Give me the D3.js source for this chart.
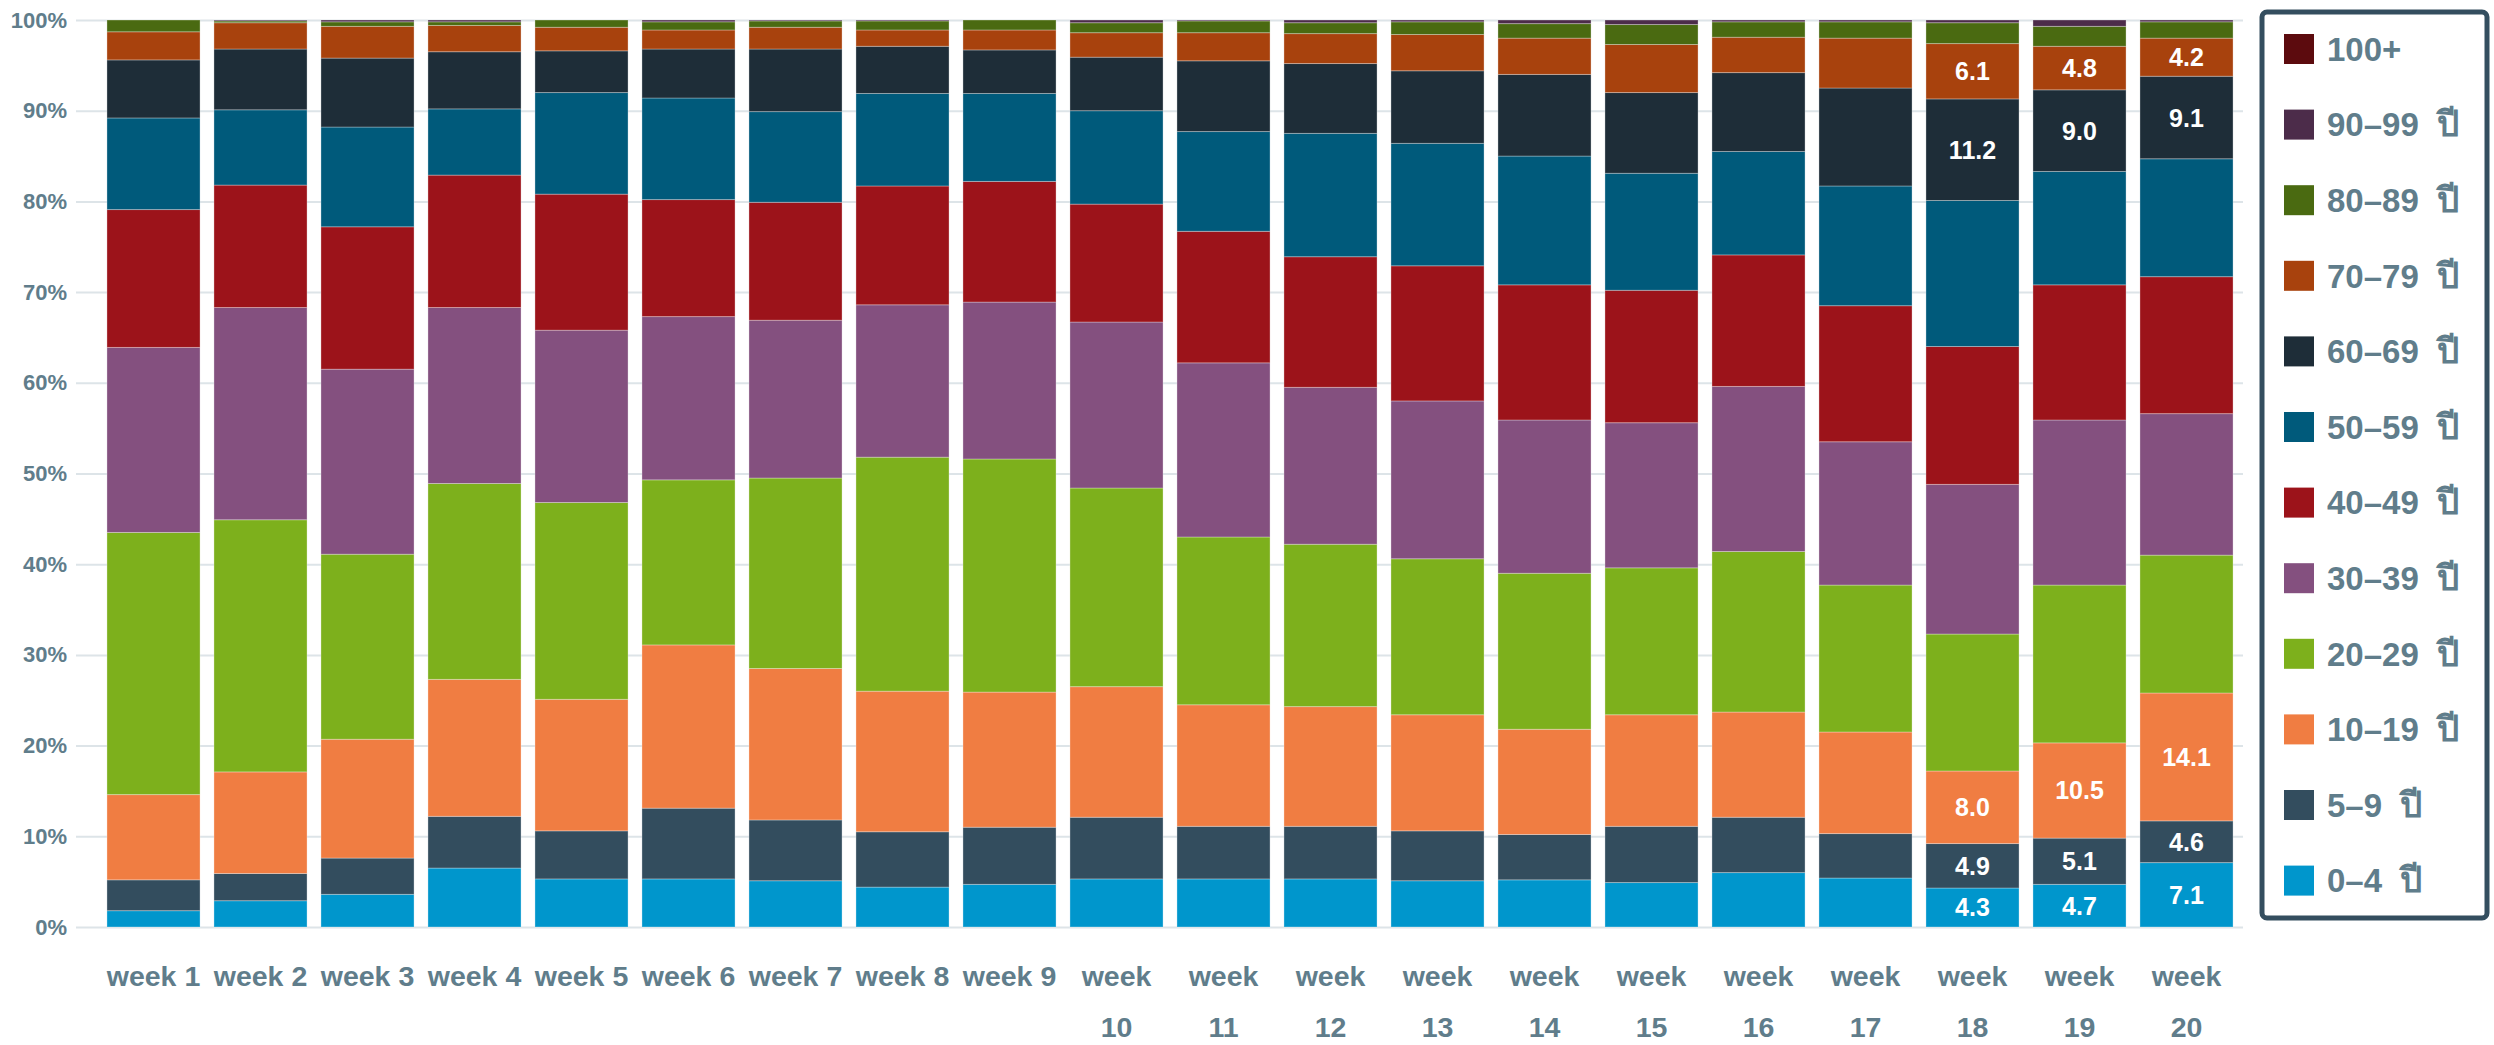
<!DOCTYPE html>
<html>
    <head>
        <meta charset="utf-8">
        <title>Age groups by week</title>
        <script src="https://cdn.jsdelivr.net/npm/d3@7"></script>
    </head>

    <style>
        body {
            margin: 0;
            background: #ffffff;
        }

        .chart-text {
            font-family: "Liberation Sans", Arial, "Noto Sans", sans-serif;
            font-weight: bold;
            fill: #607d8b;
        }
    </style>

    <body>
        <div class="viz-container"></div>
    </body>
    <script>

        //Categories on the x axis
        var weeks = ["week 1", "week 2", "week 3", "week 4", "week 5", "week 6", "week 7",
                     "week 8", "week 9", "week 10", "week 11", "week 12", "week 13", "week 14",
                     "week 15", "week 16", "week 17", "week 18", "week 19", "week 20"];

        //Age groups, bottom of the stack first
        var ageGroups = ["0–4 ปี", "5–9 ปี", "10–19 ปี", "20–29 ปี", "30–39 ปี", "40–49 ปี",
                         "50–59 ปี", "60–69 ปี", "70–79 ปี", "80–89 ปี", "90–99 ปี", "100+"];

        //Share of cases (%) per age group, one value per week
        var age0to4   = [1.8, 2.9, 3.6, 6.5, 5.3, 5.3, 5.1, 4.4, 4.7, 5.3, 5.3, 5.3, 5.1, 5.2, 4.9, 6.0, 5.4, 4.3, 4.7, 7.1];
        var age5to9   = [3.4, 3.0, 4.0, 5.7, 5.3, 7.8, 6.7, 6.1, 6.3, 6.8, 5.8, 5.8, 5.5, 5.0, 6.2, 6.1, 4.9, 4.9, 5.1, 4.6];
        var age10to19 = [9.4, 11.2, 13.1, 15.1, 14.5, 18.0, 16.7, 15.5, 14.9, 14.4, 13.4, 13.2, 12.8, 11.6, 12.3, 11.6, 11.2, 8.0, 10.5, 14.1];
        var age20to29 = [28.9, 27.8, 20.4, 21.6, 21.7, 18.2, 21.0, 25.8, 25.7, 21.9, 18.5, 17.9, 17.2, 17.2, 16.2, 17.7, 16.2, 15.1, 17.4, 15.2];
        var age30to39 = [20.4, 23.4, 20.4, 19.4, 19.0, 18.0, 17.4, 16.8, 17.3, 18.3, 19.2, 17.3, 17.4, 16.9, 16.0, 18.2, 15.8, 16.5, 18.2, 15.6];
        var age40to49 = [15.2, 13.5, 15.7, 14.6, 15.0, 12.9, 13.0, 13.1, 13.3, 13.0, 14.5, 14.4, 14.9, 14.9, 14.6, 14.5, 15.0, 15.2, 14.9, 15.1];
        var age50to59 = [10.1, 8.3, 11.0, 7.3, 11.2, 11.2, 10.0, 10.2, 9.7, 10.3, 11.0, 13.6, 13.5, 14.2, 12.9, 11.4, 13.2, 16.1, 12.5, 13.0];
        var age60to69 = [6.4, 6.7, 7.6, 6.3, 4.6, 5.4, 6.9, 5.2, 4.8, 5.9, 7.8, 7.7, 8.0, 9.0, 8.9, 8.7, 10.8, 11.2, 9.0, 9.1];
        var age70to79 = [3.1, 2.9, 3.5, 2.9, 2.6, 2.1, 2.4, 1.8, 2.2, 2.7, 3.1, 3.3, 4.0, 4.0, 5.3, 3.9, 5.5, 6.1, 4.8, 4.2];
        var age80to89 = [1.3, 0.2, 0.5, 0.4, 0.8, 0.9, 0.7, 1.0, 1.1, 1.1, 1.3, 1.2, 1.4, 1.6, 2.2, 1.7, 1.8, 2.3, 2.2, 1.8];
        var age90to99 = [0, 0.1, 0.2, 0.2, 0, 0.2, 0.1, 0.1, 0, 0.3, 0.1, 0.3, 0.2, 0.4, 0.5, 0.2, 0.2, 0.3, 0.7, 0.2];
        var age100up  = [0, 0, 0, 0, 0, 0, 0, 0, 0, 0, 0, 0, 0, 0, 0, 0, 0, 0, 0, 0];

        var seriesValues = [age0to4, age5to9, age10to19, age20to29, age30to39, age40to49,
                            age50to59, age60to69, age70to79, age80to89, age90to99, age100up];

        //Tick labels of the y axis
        var yTicks = [0, 0.1, 0.2, 0.3, 0.4, 0.5, 0.6, 0.7, 0.8, 0.9, 1];

        //Segments that carry a value label
        var labelledGroups = ["0–4 ปี", "5–9 ปี", "10–19 ปี", "60–69 ปี", "70–79 ปี"];
        var labelledWeeks = ["week 18", "week 19", "week 20"];

        var colors = ["#0096cc", "#334d5e", "#f07d42", "#7db01c", "#84507f", "#9c131a",
                      "#005a7b", "#1e2d38", "#a8420d", "#4a6a11", "#4c2c4a", "#5c0b0e"];

        //Basic sizing
        var width = 2494;
        var height = 1045;
        var plotLeft = 100, plotRight = 2240;
        var plotTop = 20, plotBottom = 927;
        var gridLeft = 76, gridRight = 2243;
        var lineHeight = 51;

        var svg = d3.select(".viz-container")
                    .append("svg")
                    .attr("width", width)
                    .attr("height", height);

        //Scales
        var x = d3.scaleBand()
                  .domain(weeks)
                  .range([plotLeft, plotRight])
                  .paddingInner(0.13)
                  .paddingOuter(0.065);

        var y = d3.scaleLinear()
                  .domain([0, 1])
                  .range([plotBottom, plotTop]);

        var color = d3.scaleOrdinal()
                      .domain(ageGroups)
                      .range(colors);

        //Build the rows for the stack
        var rows = weeks.map(function(w, i) {
            var row = { week: w };
            ageGroups.forEach(function(g, j) {
                row[g] = seriesValues[j][i];
            });
            return row;
        });

        var stacked = d3.stack()
                        .keys(ageGroups)
                        .offset(d3.stackOffsetExpand)(rows);

        //Grid lines and y labels
        var yAxis = svg.append("g")
            .attr("transform", "translate(" + gridLeft + ",0)")
            .call(d3.axisLeft(y)
                    .tickValues(yTicks)
                    .tickFormat(d3.format(".0%"))
                    .tickSize(-(gridRight - gridLeft))
                    .tickPadding(9));

        yAxis.select(".domain").remove();
        yAxis.selectAll(".tick line")
            .attr("stroke", "#dde4e8")
            .attr("stroke-width", 2);
        yAxis.selectAll(".tick text")
            .attr("class", "chart-text")
            .style("font-size", "22px");

        //Stacked bars
        var layer = svg.append("g")
            .selectAll("g")
            .data(stacked)
            .enter()
            .append("g")
            .attr("fill", function(d) { return color(d.key); });

        layer.selectAll("rect")
            .data(function(d) { return d; })
            .enter()
            .filter(function(d) { return d[1] - d[0] > 0; })
            .append("rect")
            .attr("x", function(d) { return x(d.data.week); })
            .attr("y", function(d) { return y(d[1]); })
            .attr("width", x.bandwidth())
            .attr("height", function(d) { return y(d[0]) - y(d[1]); })
            .attr("stroke", "rgba(255,255,255,0.3)")
            .attr("stroke-width", 1);

        //Value labels inside some segments
        var fmt = d3.format(".1f");
        stacked.forEach(function(s) {
            if (labelledGroups.indexOf(s.key) < 0) return;
            svg.append("g")
                .selectAll("text")
                .data(s.filter(function(d) { return labelledWeeks.indexOf(d.data.week) >= 0; }))
                .enter()
                .append("text")
                .attr("class", "chart-text")
                .style("fill", "#ffffff")
                .style("font-size", "25px")
                .attr("text-anchor", "middle")
                .attr("dy", "0.36em")
                .attr("x", function(d) { return x(d.data.week) + x.bandwidth() / 2; })
                .attr("y", function(d) { return (y(d[0]) + y(d[1])) / 2; })
                .text(function(d) { return fmt(d.data[s.key]); });
        });

        //X axis labels
        var xAxis = svg.append("g")
            .attr("transform", "translate(0," + plotBottom + ")")
            .call(d3.axisBottom(x).tickSize(0));

        xAxis.select(".domain").remove();
        xAxis.selectAll(".tick text")
            .attr("class", "chart-text")
            .style("font-size", "28.5px")
            .attr("y", 59)
            .attr("dy", 0)
            .call(wrap, x.step());

        //Break a label into lines when it is wider than its band
        function wrap(text, maxWidth) {
            text.each(function() {
                var t = d3.select(this);
                if (this.getComputedTextLength() <= maxWidth) return;
                var words = t.text().split(" ");
                t.text(null);
                words.forEach(function(w, i) {
                    t.append("tspan")
                        .attr("x", 0)
                        .attr("dy", i === 0 ? 0 : lineHeight)
                        .text(w);
                });
            });
        }

        //Legend
        var legend = svg.append("g");

        legend.append("rect")
            .attr("x", 2262)
            .attr("y", 12)
            .attr("width", 225)
            .attr("height", 906)
            .attr("rx", 5)
            .attr("fill", "#ffffff")
            .attr("stroke", "#344e5f")
            .attr("stroke-width", 5);

        var legendItem = legend.selectAll(".legend-item")
            .data(ageGroups.slice().reverse())
            .enter()
            .append("g")
            .attr("class", "legend-item")
            .attr("transform", function(d, i) {
                return "translate(2284," + (49 + i * 75.6) + ")";
            });

        legendItem.append("rect")
            .attr("x", 0)
            .attr("y", -15)
            .attr("width", 30)
            .attr("height", 30)
            .attr("fill", function(d) { return color(d); });

        //Range and unit go in separate spans so the unit can sit a little apart
        var legendText = legendItem.append("text")
            .attr("class", "chart-text")
            .style("font-size", "33px")
            .attr("x", 43)
            .attr("dy", "0.36em");

        legendText.append("tspan")
            .text(function(d) { return d.split(" ")[0]; });

        legendText.filter(function(d) { return d.indexOf(" ") >= 0; })
            .append("tspan")
            .attr("dx", 18)
            .style("font-size", "35px")
            .text(function(d) { return d.split(" ")[1]; });

    </script>
</html>
